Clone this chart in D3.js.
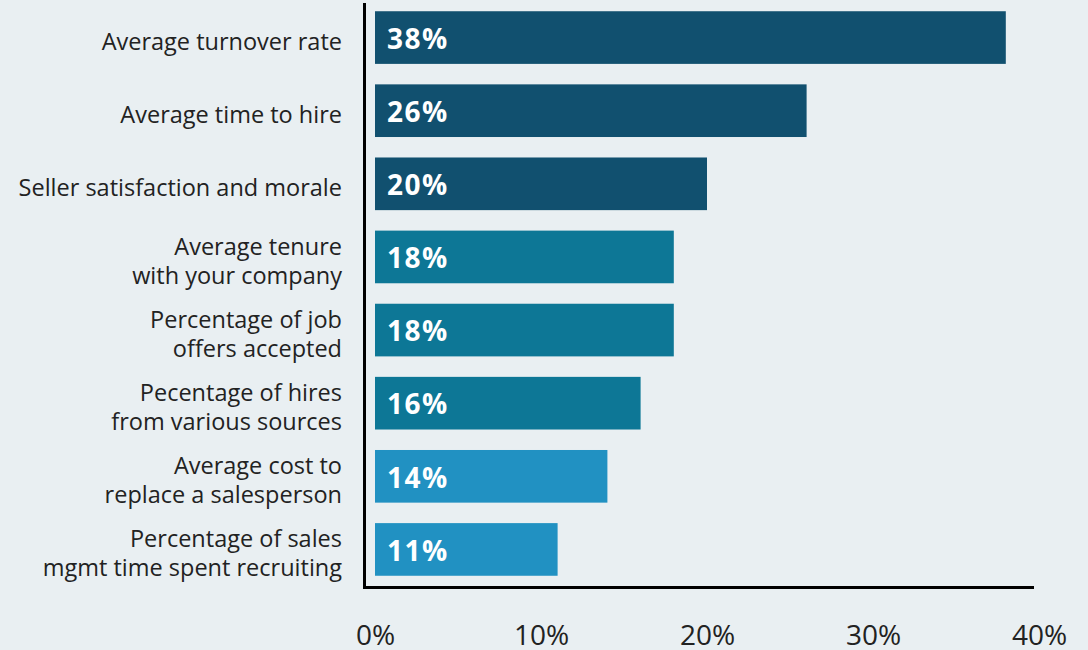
<!DOCTYPE html>
<html>
<head>
<meta charset="utf-8">
<script src="https://cdn.jsdelivr.net/npm/d3@7"></script>
<style>
  html, body { margin: 0; padding: 0; background: #e9eff2; }
  svg { display: block; }
</style>
</head>
<body>
<svg id="chart" width="1088" height="650"></svg>
<script>
// Metrics tracked, top to bottom (each label split into its display lines)
const categories = [
  ["Average turnover rate"],
  ["Average time to hire"],
  ["Seller satisfaction and morale"],
  ["Average tenure", "with your company"],
  ["Percentage of job", "offers accepted"],
  ["Pecentage of hires", "from various sources"],
  ["Average cost to", "replace a salesperson"],
  ["Percentage of sales", "mgmt time spent recruiting"]
];
const values = [38, 26, 20, 18, 18, 16, 14, 11];
const groups = ["dark", "dark", "dark", "mid", "mid", "mid", "light", "light"];
const tickValues = [0, 10, 20, 30, 40];

const palette = { dark: "#11506f", mid: "#0d7796", light: "#2191c2" };
const font = "'Open Sans', 'Noto Sans', sans-serif";

const svg = d3.select("#chart");
const keys = categories.map(c => c.join(" "));

const x = d3.scaleLinear().domain([0, 40]).range([375, 1039]);
const y = d3.scaleBand().domain(keys).range([1, 586])
  .paddingInner(0.28).paddingOuter(0.14);

// Bars
svg.append("g").selectAll("rect")
  .data(values)
  .join("rect")
  .attr("x", x(0))
  .attr("y", (d, i) => y(keys[i]))
  .attr("width", d => x(d) - x(0))
  .attr("height", y.bandwidth())
  .attr("fill", (d, i) => palette[groups[i]]);

// Value labels inside the bars
svg.append("g").selectAll("text")
  .data(values)
  .join("text")
  .attr("x", x(0) + 12)
  .attr("y", (d, i) => y(keys[i]) + y.bandwidth() / 2)
  .attr("dy", "0.4em")
  .attr("fill", "#ffffff")
  .attr("font-family", font)
  .attr("font-weight", 700)
  .attr("font-size", 28)
  .attr("letter-spacing", 1.5)
  .text(d => d + "%");

// Category labels, right-aligned beside the axis
const lineH = 29;
const cat = svg.append("g").selectAll("text")
  .data(categories)
  .join("text")
  .attr("text-anchor", "end")
  .attr("fill", "#222222")
  .attr("font-family", font)
  .attr("font-size", 23.5)
  .attr("y", (d, i) => y(keys[i]) + y.bandwidth() / 2);
cat.each(function(lines) {
  const t = d3.select(this);
  const y0 = +t.attr("y");
  lines.forEach((ln, j) => {
    t.append("tspan")
      .attr("x", 342)
      .attr("y", y0 + (j - (lines.length - 1) / 2) * lineH)
      .attr("dy", "0.52em")
      .text(ln);
  });
});

// Axes: a left rule and a bottom rule with percent labels below
svg.append("line")
  .attr("x1", 364.5).attr("x2", 364.5)
  .attr("y1", 3).attr("y2", 589)
  .attr("stroke", "#000").attr("stroke-width", 3);
svg.append("line")
  .attr("x1", 363).attr("x2", 1034)
  .attr("y1", 587.5).attr("y2", 587.5)
  .attr("stroke", "#000").attr("stroke-width", 3);

const xAxis = d3.axisBottom(x)
  .tickValues(tickValues)
  .tickFormat(d => d + "%")
  .tickSize(0)
  .tickPadding(0);
const gx = svg.append("g").attr("transform", "translate(0,625)").call(xAxis);
gx.select(".domain").remove();
gx.selectAll("text")
  .attr("font-family", font)
  .attr("font-size", 28)
  .attr("fill", "#222222");
</script>
</body>
</html>
